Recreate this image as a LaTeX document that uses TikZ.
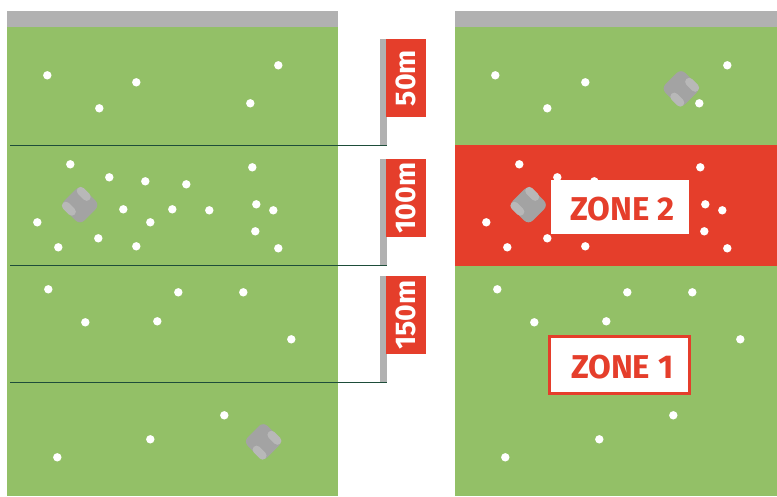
\documentclass[tikz,border=0pt]{standalone}
\usepackage{fontspec}
\setmainfont{Fira Sans}
\definecolor{grass}{HTML}{93C067}
\definecolor{alarm}{HTML}{E53E2B}
\definecolor{bar}{HTML}{B1B1B1}
\definecolor{rule}{HTML}{1E4D3A}
\definecolor{rbody}{HTML}{A3A3A3}
\definecolor{rwheel}{HTML}{B8B8B8}
\newcommand{\mowdot}[2]{\fill[white] (#1+0.3,#2+0.3) circle (4.2);}
\newcommand{\mower}[3]{\begin{scope}[shift={(#1,#2)},rotate=#3]
  \fill[rbody,rounded corners=6] (-14,-14) rectangle (14,14);
  \draw[rwheel,line width=8,line cap=round] (10.5,-9.5) -- (10.5,-1);
  \draw[rwheel,line width=8,line cap=round] (-10.5,-9.5) -- (-10.5,-1);
\end{scope}}
\tikzset{
  flag/.style={fill=alarm,text=white,font=\bfseries\fontsize{28.5}{29}\selectfont,rotate=90,minimum width=78,minimum height=40,inner sep=0,anchor=north},
  pole/.style={fill=bar},
  zonebox/.style={fill=white,inner sep=0},
  zonetext/.style={text=alarm,font=\fontsize{33}{33}\selectfont\bfseries,inner sep=0},
  metre/.style={rule,line width=1.4}
}
\begin{document}
\begin{tikzpicture}[x=1pt,y=-1pt]
\useasboundingbox (0,0) rectangle (777,496);
% panels
\fill[grass] (7,27) rectangle (338,496);
\fill[bar] (7,11) rectangle (338,27);
\fill[grass] (455,27) rectangle (777,496);
\fill[bar] (455,11) rectangle (777,27);
\fill[alarm] (455,145) rectangle (777,266);
% left dots
\foreach \x/\y in {47/75,136/82,99/108,278/65,250/103,70/164,109/177,145/181,186/184,252/167,256/204,273/210,123/209,150/222,172/209,209/210,37/222,98/238,58/247,136/246,255/231,278/248,48/289,178/292,243/292,85/322,157/321,291/339,224/415,150/439,57/457}
  {\mowdot{\x}{\y}}
% right dots
\foreach \x/\y in {495/75,585/82,547/108,727/65,699/103,519/164,557/177,594/181,700/167,705/204,722/210,486/222,547/238,507/247,585/246,704/231,727/248,497/289,627/292,692/292,534/322,606/321,740/339,673/415,599/439,505/457}
  {\mowdot{\x}{\y}}
% mowers
\mower{80}{205}{45}
\mower{263.3}{441.5}{225}
\mower{528.5}{205}{45}
\mower{681}{88.5}{225}
% flags
\fill[pole] (380,39) rectangle (386.5,146);
\fill[pole] (380,159) rectangle (386.5,266);
\fill[pole] (380,276) rectangle (386.5,383);
\node[flag] (f50) at (386,78) {50m};
\node[flag] (f100) at (386,198) {100m};
\node[flag] (f150) at (386,315) {150m};
% distance rules
\coordinate (a1) at (10,145.5); \coordinate (a2) at (386.5,145.5);
\coordinate (b1) at (10,265.5); \coordinate (b2) at (386.5,265.5);
\coordinate (c1) at (10,382.5); \coordinate (c2) at (386.5,382.5);
\draw[metre] (a1) -- (a2);
\draw[metre] (b1) -- (b2);
\draw[metre] (c1) -- (c2);
% zones
\node[zonebox,minimum width=138,minimum height=54] (z2) at (620,207) {};
\node[zonetext] (z2t) at (622.3,208.8) {ZONE 2};
\node[zonebox,draw=alarm,line width=3,minimum width=140,minimum height=57] (z1) at (619.5,365) {};
\node[zonetext] (z1t) at (622.3,366.8) {ZONE 1};
\end{tikzpicture}
\end{document}
